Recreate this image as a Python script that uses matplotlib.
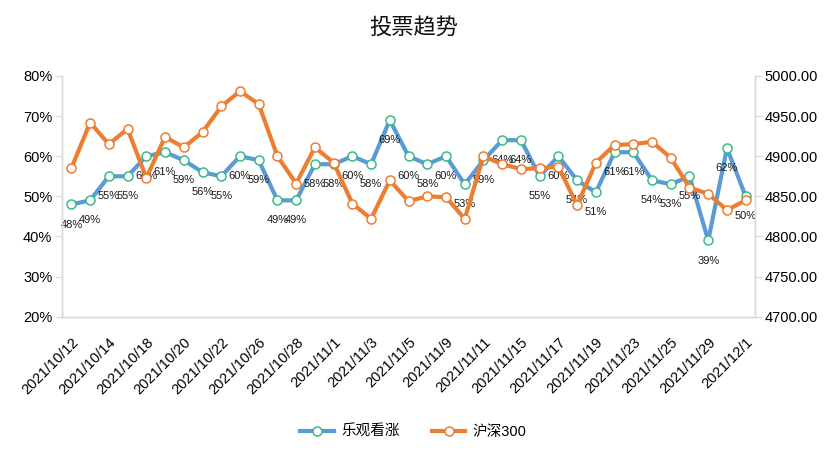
import matplotlib
matplotlib.use("Agg")
import matplotlib.pyplot as plt
from matplotlib.ticker import FuncFormatter

plt.rcParams['font.family'] = ['Liberation Sans', 'Noto Sans CJK SC', 'DejaVu Sans']

# trading days 2021/10/12 .. 2021/12/1
dates = [
    "2021/10/12", "2021/10/13", "2021/10/14", "2021/10/15", "2021/10/18",
    "2021/10/19", "2021/10/20", "2021/10/21", "2021/10/22", "2021/10/25",
    "2021/10/26", "2021/10/27", "2021/10/28", "2021/10/29", "2021/11/1",
    "2021/11/2", "2021/11/3", "2021/11/4", "2021/11/5", "2021/11/8",
    "2021/11/9", "2021/11/10", "2021/11/11", "2021/11/12", "2021/11/15",
    "2021/11/16", "2021/11/17", "2021/11/18", "2021/11/19", "2021/11/22",
    "2021/11/23", "2021/11/24", "2021/11/25", "2021/11/26", "2021/11/29",
    "2021/11/30", "2021/12/1",
]

# share of bullish votes (%)
bullish = [48, 49, 55, 55, 60, 61, 59, 56, 55, 60, 59, 49, 49, 58, 58, 60, 58,
           69, 60, 58, 60, 53, 59, 64, 64, 55, 60, 54, 51, 61, 61, 54, 53, 55,
           39, 62, 50]

# CSI 300 close
hs300 = [4885, 4942, 4915, 4934, 4873, 4924, 4911, 4930, 4962, 4981, 4965,
         4900, 4866, 4911, 4892, 4841, 4822, 4870, 4844, 4850, 4849, 4822,
         4900, 4890, 4884, 4885, 4887, 4839, 4892, 4914, 4915, 4918, 4898,
         4861, 4853, 4833, 4845]

blue = "#5B9BD5"
orange = "#ED7D31"
grey = "#D9D9D9"

fig = plt.figure(figsize=(8.27, 4.73), dpi=100)
ax = fig.add_axes([0.075, 0.3304, 0.838, 0.509])
ax2 = ax.twinx()

x = list(range(len(dates)))

ax.plot(x, bullish, color=blue, lw=3, marker="o", ms=6.5,
        mfc="white", mec="#3CB98A", mew=1.1, zorder=3, label="乐观看涨")
ax2.plot(x, hs300, color=orange, lw=3, marker="o", ms=6.5,
         mfc="white", mec=orange, mew=1.1, zorder=3, label="沪深300")

# data labels below the blue points
for i, v in enumerate(bullish):
    ax.annotate(f"{v}%", (i, v), xytext=(0, -14.5), textcoords="offset points",
                ha="center", va="center", fontsize=8, color="#1a1a1a", zorder=5)

ax.set_xlim(-0.5, len(dates) - 0.5)
ax.set_ylim(20, 80)
ax.set_yticks(range(20, 81, 10))
ax.yaxis.set_major_formatter(FuncFormatter(lambda v, p: f"{v:.0f}%"))
ax2.set_ylim(4700, 5000)
ax2.set_yticks(range(4700, 5001, 50))
ax2.yaxis.set_major_formatter(FuncFormatter(lambda v, p: f"{v:.2f}"))

ax.set_xticks(x[::2])
ax.set_xticklabels(dates[::2], rotation=45, ha="right", va="top",
                   rotation_mode="anchor", fontsize=10.5)
ax.tick_params(axis="x", length=0, pad=13)
ax.tick_params(axis="y", length=5, color=grey, labelsize=10.5, pad=2)
ax2.tick_params(axis="y", length=5, color=grey, labelsize=10.5, pad=2)

for a in (ax, ax2):
    a.spines["top"].set_visible(False)
    for s in ("left", "right", "bottom"):
        a.spines[s].set_color(grey)
        a.spines[s].set_linewidth(1)

fig.text(0.5, 0.94, "投票趋势", ha="center", va="center", fontsize=16,
         color="#111111")

h1, l1 = ax.get_legend_handles_labels()
h2, l2 = ax2.get_legend_handles_labels()
fig.legend(h1 + h2, l1 + l2, loc="center", bbox_to_anchor=(0.5, 0.087),
           ncol=2, frameon=False, fontsize=10.5, handlelength=2.3,
           columnspacing=2.2, handletextpad=0.5)

fig.savefig("out.png", dpi=100)
